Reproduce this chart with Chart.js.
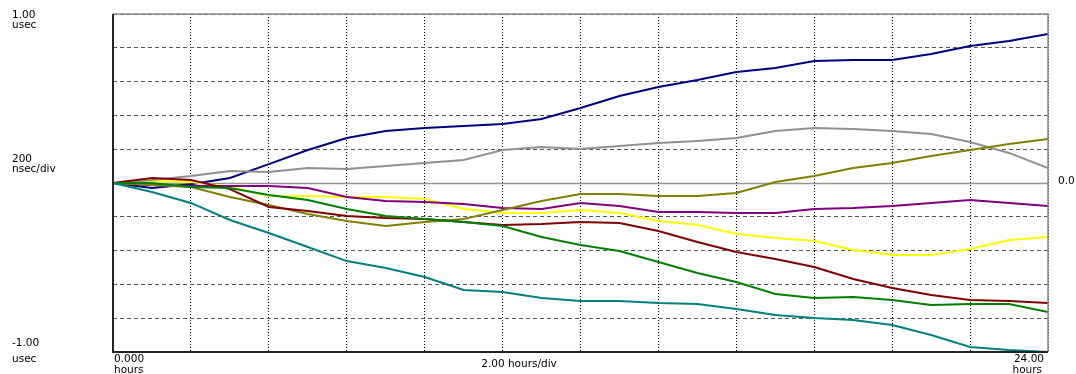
<!DOCTYPE html>
<html>
<head>
<meta charset="utf-8">
<script src="https://cdn.jsdelivr.net/npm/chart.js@4/dist/chart.umd.min.js"></script>
<style>
  html, body { margin: 0; padding: 0; background: #fff; }
  #wrap { width: 1076px; height: 374px; }
</style>
</head>
<body>
<div id="wrap"><canvas id="timeChart" width="1076" height="374"></canvas></div>
<script>
// hours since start, one sample per hour
const hours = [0,1,2,3,4,5,6,7,8,9,10,11,12,13,14,15,16,17,18,19,20,21,22,23,24];

// offsets in nanoseconds
const navy   = [0,-30,-8,30,112,195,266,308,325,337,349,379,444,515,568,609,657,680,722,728,728,763,811,840,882];
const gray   = [0,18,41,71,65,89,83,101,118,136,195,213,201,219,237,249,266,308,325,320,308,290,243,178,89];
const olive  = [0,-12,-24,-83,-130,-183,-225,-254,-231,-213,-160,-107,-65,-65,-77,-77,-59,6,41,89,118,160,195,231,260];
const purple = [0,-12,-18,-18,-18,-30,-83,-107,-112,-124,-148,-154,-118,-136,-172,-172,-178,-178,-154,-148,-136,-118,-101,-118,-136];
const yellow = [0,12,6,-24,-77,-77,-83,-83,-95,-154,-178,-178,-160,-178,-225,-249,-302,-325,-343,-396,-426,-426,-391,-337,-320];
const maroon = [0,30,18,-36,-142,-166,-195,-207,-213,-231,-249,-243,-231,-237,-284,-349,-408,-450,-497,-568,-621,-663,-692,-698,-710];
const green  = [0,0,-24,-30,-71,-101,-154,-195,-213,-231,-254,-320,-367,-402,-467,-533,-586,-657,-680,-675,-692,-722,-716,-716,-763];
const teal   = [0,-53,-118,-219,-296,-379,-462,-503,-556,-633,-645,-680,-698,-698,-710,-716,-746,-781,-799,-811,-840,-899,-970,-988,-1000];

const seriesList = [
    { name: 'teal',   data: teal,   color: '#008080' },
    { name: 'green',  data: green,  color: '#008000' },
    { name: 'maroon', data: maroon, color: '#800000' },
    { name: 'olive',  data: olive,  color: '#808000' },
    { name: 'purple', data: purple, color: '#800080' },
    { name: 'gray',   data: gray,   color: '#909090' },
    { name: 'yellow', data: yellow, color: '#ffff00' },
    { name: 'navy',   data: navy,   color: '#000080' }
];

const datasets = seriesList.map(s => ({
    label: s.name,
    data: hours.map((h, i) => ({ x: h, y: s.data[i] })),
    borderColor: s.color,
    borderWidth: 2,
    pointRadius: 0,
    tension: 0,
    fill: false
}));

const FONT = '10.5px "DejaVu Sans", sans-serif';

// zero line under the traces, frame and the old-style labels on top
const scopeDecor = {
    id: 'scopeDecor',
    beforeDatasetsDraw(chart) {
        const { ctx, chartArea: a, scales: { y } } = chart;
        const y0 = Math.round(y.getPixelForValue(0)) + 0.5;
        ctx.save();
        ctx.strokeStyle = '#8f9a8f';
        ctx.lineWidth = 1.5;
        ctx.beginPath();
        ctx.moveTo(a.left, y0);
        ctx.lineTo(a.right, y0);
        ctx.stroke();
        ctx.restore();
    },
    afterDraw(chart) {
        const { ctx, chartArea: a, scales: { y } } = chart;
        ctx.save();
        // frame
        ctx.strokeStyle = '#8a8a8a';
        ctx.lineWidth = 1.5;
        ctx.beginPath();
        ctx.moveTo(a.left, a.top);
        ctx.lineTo(a.right, a.top);
        ctx.lineTo(a.right, a.bottom);
        ctx.stroke();
        ctx.strokeStyle = '#222';
        ctx.lineWidth = 2;
        ctx.beginPath();
        ctx.moveTo(a.left, a.top);
        ctx.lineTo(a.left, a.bottom);
        ctx.lineTo(a.right, a.bottom);
        ctx.stroke();

        // labels
        ctx.fillStyle = '#000';
        ctx.font = FONT;
        ctx.textBaseline = 'alphabetic';
        ctx.textAlign = 'left';
        ctx.fillText('1.00', 12, 18);
        ctx.fillText('usec', 12, 28);
        ctx.fillText('200', 12, 162);
        ctx.fillText('nsec/div', 12, 172);
        ctx.fillText('-1.00', 12, 346);
        ctx.fillText('usec', 12, 362);
        ctx.fillText('0.000', a.left + 1, 362);
        ctx.fillText('hours', a.left + 1, 373);
        ctx.fillText('0.0', a.right + 10, y.getPixelForValue(0) + 1);
        ctx.textAlign = 'right';
        ctx.fillText('24.00', a.right - 4, 362);
        ctx.fillText('hours', a.right - 6, 373);
        ctx.textAlign = 'center';
        ctx.fillText('2.00 hours/div', 519, 367);
        ctx.restore();
    }
};

new Chart(document.getElementById('timeChart').getContext('2d'), {
    type: 'line',
    data: { datasets },
    options: {
        responsive: false,
        animation: false,
        devicePixelRatio: 1,
        layout: { padding: { left: 113, right: 28, top: 14, bottom: 22 } },
        scales: {
            x: {
                type: 'linear', min: 0, max: 24,
                ticks: { stepSize: 2, display: false },
                grid: { color: '#000', lineWidth: 1, drawTicks: false },
                border: { display: false, dash: [1, 2] }
            },
            y: {
                type: 'linear', min: -1000, max: 1000,
                ticks: { stepSize: 200, display: false },
                grid: { color: '#555', lineWidth: 1, drawTicks: false },
                border: { display: false, dash: [4, 3] }
            }
        },
        plugins: {
            legend: { display: false },
            tooltip: { enabled: false }
        }
    },
    plugins: [scopeDecor]
});
</script>
</body>
</html>
